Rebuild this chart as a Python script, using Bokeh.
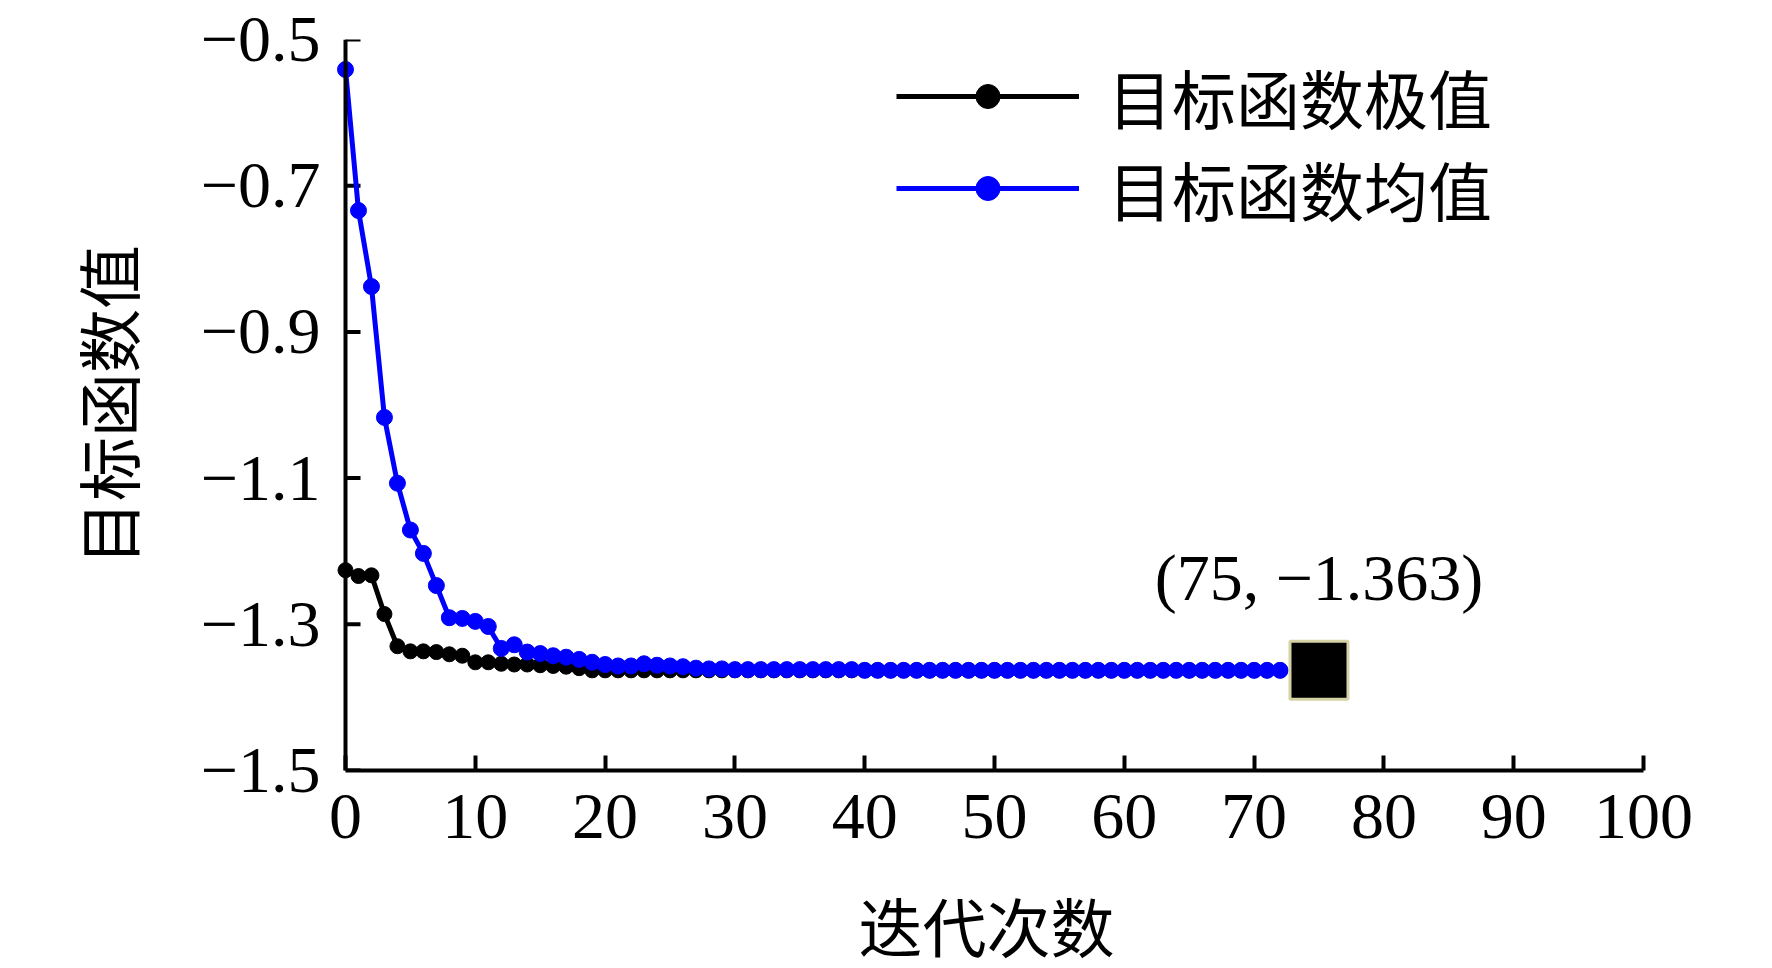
from bokeh.plotting import figure
from bokeh.models import Range1d, FixedTicker, Legend, LegendItem, Label, Span
from bokeh.embed import file_html
from bokeh.resources import INLINE

# ---------------- data ----------------
iterations = list(range(0, 73))

best_values = [
    -1.226, -1.234, -1.233, -1.286, -1.330, -1.337, -1.337, -1.338, -1.341, -1.343,
    -1.352, -1.352, -1.354, -1.355, -1.355, -1.356, -1.357, -1.358, -1.360, -1.363,
    -1.363, -1.363, -1.363, -1.363, -1.363, -1.363, -1.363, -1.363, -1.363, -1.363,
    -1.363, -1.363, -1.363, -1.363, -1.363, -1.363, -1.363, -1.363, -1.363, -1.363,
    -1.363, -1.363, -1.363, -1.363, -1.363, -1.363, -1.363, -1.363, -1.363, -1.363,
    -1.363, -1.363, -1.363, -1.363, -1.363, -1.363, -1.363, -1.363, -1.363, -1.363,
    -1.363, -1.363, -1.363, -1.363, -1.363, -1.363, -1.363, -1.363, -1.363, -1.363,
    -1.363, -1.363, -1.363,
]

mean_values = [
    -0.541, -0.734, -0.838, -1.017, -1.107, -1.171, -1.203, -1.247, -1.291, -1.292,
    -1.296, -1.303, -1.333, -1.328, -1.338, -1.340, -1.343, -1.345, -1.348, -1.352,
    -1.355, -1.357, -1.357, -1.354, -1.356, -1.357, -1.358, -1.360, -1.361, -1.361,
    -1.362, -1.362, -1.362, -1.362, -1.362, -1.362, -1.362, -1.362, -1.362, -1.362,
    -1.363, -1.363, -1.363, -1.363, -1.363, -1.363, -1.363, -1.363, -1.363, -1.363,
    -1.363, -1.363, -1.363, -1.363, -1.363, -1.363, -1.363, -1.363, -1.363, -1.363,
    -1.363, -1.363, -1.363, -1.363, -1.363, -1.363, -1.363, -1.363, -1.363, -1.363,
    -1.363, -1.363, -1.363,
]

best_point_x = [75]
best_point_y = [-1.363]
best_point_text = "(75, \u22121.363)"

x_ticks = [0, 10, 20, 30, 40, 50, 60, 70, 80, 90, 100]
y_ticks = [-1.5, -1.3, -1.1, -0.9, -0.7, -0.5]
y_tick_labels = ["\u22121.5", "\u22121.3", "\u22121.1", "\u22120.9", "\u22120.7", "\u22120.5"]

series_labels = ["目标函数极值", "目标函数均值"]
x_title = "迭代次数"
y_title = "目标函数值"

SERIF = "Liberation Serif"
CJK = "Noto Sans CJK SC"

# ---------------- figure ----------------
p = figure(
    width=1764, height=968,
    x_range=Range1d(-1.233, 100), y_range=Range1d(-1.5, -0.5),
    output_backend="svg", toolbar_location=None,
    min_border_left=329, min_border_right=121,
    min_border_top=39, min_border_bottom=197,
)
p.outline_line_color = None
p.xgrid.visible = False
p.ygrid.visible = False
p.background_fill_color = "white"

# x axis (line from 0 to 100, inward ticks)
xa = p.xaxis[0]
xa.ticker = FixedTicker(ticks=x_ticks)
xa.bounds = (0, 100)
xa.axis_line_width = 4
xa.major_tick_line_width = 4
xa.major_tick_in = 15
xa.major_tick_out = 0
xa.minor_tick_line_color = None
xa.major_label_text_font = SERIF
xa.major_label_text_font_size = "66px"
xa.major_label_text_color = "black"
xa.major_label_standoff = 24
xa.axis_label = x_title
xa.axis_label_text_font = SERIF + ", " + CJK
xa.axis_label_text_font_size = "64px"
xa.axis_label_text_font_style = "normal"
xa.axis_label_text_color = "black"
xa.axis_label_standoff = 54

# y axis carrying the tick labels and title
ya = p.yaxis[0]
ya.ticker = FixedTicker(ticks=y_ticks)
ya.major_label_overrides = dict(zip(y_ticks, y_tick_labels))
ya.axis_line_color = None
ya.major_tick_line_color = None
ya.minor_tick_line_color = None
ya.major_tick_in = 0
ya.major_tick_out = 0
ya.major_label_text_font = SERIF
ya.major_label_text_font_size = "66px"
ya.major_label_text_color = "black"
ya.major_label_standoff = 9
ya.axis_label = y_title
ya.axis_label_text_font = CJK
ya.axis_label_text_font_size = "64px"
ya.axis_label_text_font_style = "normal"
ya.axis_label_text_color = "black"
ya.axis_label_standoff = 46

# y axis line at x = 0 with inward ticks taken from the tick list
p.add_layout(Span(location=0, dimension="height", line_color="black", line_width=4))
p.ray(x=[0] * len(y_ticks), y=y_ticks, length=15, length_units="screen", angle=0,
      line_color="black", line_width=4)

# ---------------- series ----------------
r_best_line = p.line(iterations, best_values, line_color="black", line_width=5)
r_best_pts = p.scatter(iterations, best_values, size=15, fill_color="black", line_color="black")
r_mean_line = p.line(iterations, mean_values, line_color="#0000ff", line_width=5)
r_mean_pts = p.scatter(iterations, mean_values, size=16, fill_color="#0000ff", line_color="#0000ff")

p.scatter(best_point_x, best_point_y, marker="square", size=58,
          fill_color="black", line_color="#d6d2a4", line_width=3)

p.add_layout(Label(x=best_point_x[0], y=best_point_y[0], y_offset=93, text=best_point_text,
                   text_align="center", text_baseline="alphabetic",
                   text_font=SERIF, text_font_size="66px", text_color="black"))

legend = Legend(
    items=[
        LegendItem(label=series_labels[0], renderers=[r_best_line, r_best_pts]),
        LegendItem(label=series_labels[1], renderers=[r_mean_line, r_mean_pts]),
    ],
    location=(567, 536),
    glyph_width=183, glyph_height=60, label_height=60,
    label_standoff=29, spacing=0, padding=0, margin=0,
    label_text_font=CJK, label_text_font_size="64px", label_text_color="black",
    border_line_color=None, background_fill_alpha=0,
)
p.add_layout(legend)

open("out.html", "w").write(file_html(p, INLINE))
